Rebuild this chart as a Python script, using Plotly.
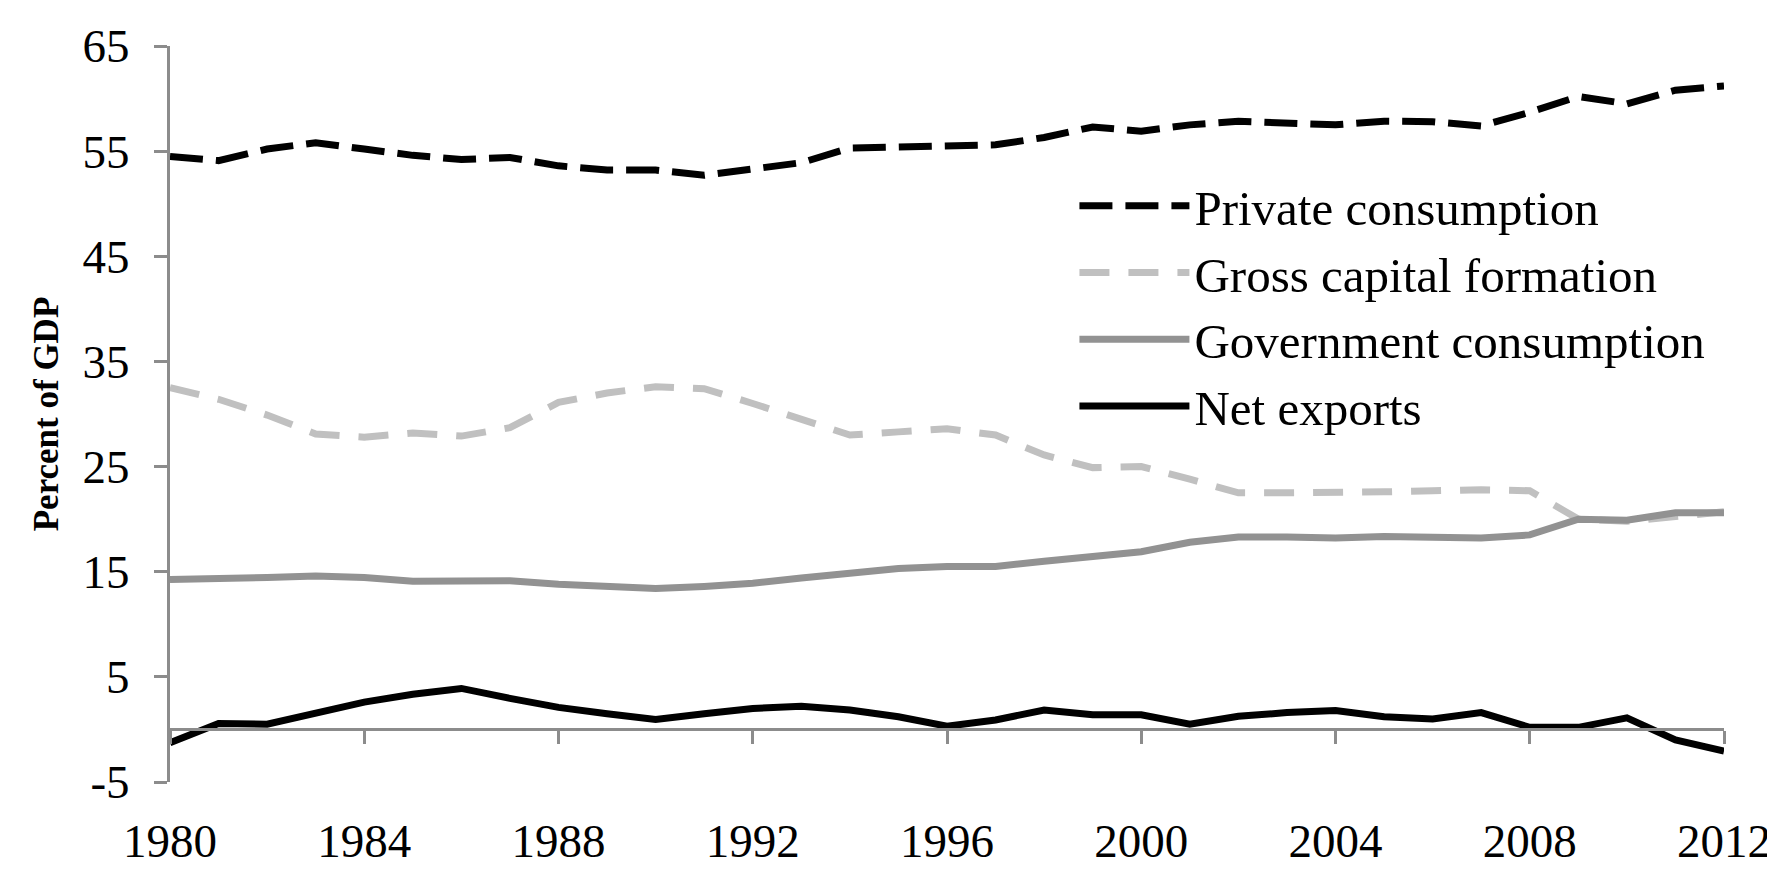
import plotly.graph_objects as go

years = list(range(1980, 2013))

private_consumption = [54.5, 54.1, 55.2, 55.8, 55.2, 54.6, 54.2, 54.4, 53.6, 53.2, 53.2, 52.7, 53.3, 53.9,
                       55.3, 55.4, 55.5, 55.6, 56.3, 57.3, 56.9, 57.5, 57.85, 57.7, 57.5, 57.85, 57.8, 57.4,
                       58.7, 60.2, 59.5, 60.8, 61.2]
gross_capital_formation = [32.5, 31.4, 29.9, 28.1, 27.8, 28.2, 27.9, 28.7, 31.1, 32.0, 32.6, 32.4, 31.0, 29.5,
                           28.0, 28.3, 28.6, 28.0, 26.1, 24.9, 25.0, 23.8, 22.5, 22.5, 22.5, 22.6, 22.7, 22.8,
                           22.7, 20.0, 19.8, 20.3, 20.7]
government_consumption = [14.25, 14.3, 14.45, 14.6, 14.45, 14.1, 14.1, 14.15, 13.8, 13.6, 13.4, 13.6, 13.9, 14.4,
                          14.8, 15.3, 15.5, 15.5, 16.0, 16.5, 16.9, 17.8, 18.3, 18.3, 18.2, 18.35, 18.2, 18.2,
                          18.5, 20.0, 19.9, 20.6, 20.6]
net_exports = [-1.27, 0.57, 0.5, 1.6, 2.6, 3.35, 3.9, 2.95, 2.1, 1.5, 0.95, 1.5, 2.0, 2.2, 1.85, 1.2, 0.3,
               0.9, 1.85, 1.4, 1.4, 0.5, 1.25, 1.6, 1.8, 1.2, 1.0, 1.6, 0.2, 0.2, 1.1, -1.0, -2.05]

series_names = ["Private consumption", "Gross capital formation", "Government consumption", "Net exports"]
x_ticks = [1980, 1984, 1988, 1992, 1996, 2000, 2004, 2008, 2012]
y_ticks = [-5, 5, 15, 25, 35, 45, 55, 65]
y_tick_labels = ["-5", "5", "15", "25", "35", "45", "55", "65"]

FONT = "Liberation Serif"
AXIS_GRAY = "#8c8c8c"

fig = go.Figure()
fig.add_trace(go.Scatter(x=years, y=private_consumption, name=series_names[0], mode="lines",
                         line=dict(color="#000000", width=7, dash="33px,13px")))
fig.add_trace(go.Scatter(x=years, y=gross_capital_formation, name=series_names[1], mode="lines",
                         line=dict(color="#c0c0c0", width=7, dash="30px,19px")))
fig.add_trace(go.Scatter(x=years, y=government_consumption, name=series_names[2], mode="lines",
                         line=dict(color="#929292", width=7)))
fig.add_trace(go.Scatter(x=years, y=net_exports, name=series_names[3], mode="lines",
                         line=dict(color="#000000", width=7)))
# invisible trace to host the zero-line axis with tick marks
fig.add_trace(go.Scatter(x=[years[0], years[-1]], y=[0, 0], xaxis="x2", mode="lines",
                         line=dict(width=0), showlegend=False, hoverinfo="skip"))

fig.update_layout(
    width=1775, height=871,
    margin=dict(l=162, r=51, t=25, b=86),
    paper_bgcolor="white", plot_bgcolor="white",
    font=dict(family=FONT, color="#000000", size=47),
    showlegend=True,
    legend=dict(x=0.582, y=0.835, xanchor="left", yanchor="top", bgcolor="rgba(0,0,0,0)",
                font=dict(family=FONT, size=49), itemwidth=110, tracegroupgap=0),
    xaxis=dict(range=[1980, 2012], tickvals=x_ticks, showline=False, showgrid=False, zeroline=False,
               ticks="", ticklabelstandoff=27, ticklabeloverflow="allow",
               tickfont=dict(size=47, family=FONT)),
    xaxis2=dict(range=[1980, 2012], tickvals=x_ticks, overlaying="x", anchor="free", position=5 / 70,
                showline=True, linecolor=AXIS_GRAY, linewidth=3, ticks="outside", ticklen=13,
                tickwidth=3, tickcolor=AXIS_GRAY, showticklabels=False, showgrid=False, zeroline=False),
    yaxis=dict(range=[-5, 65], tickvals=y_ticks, ticktext=y_tick_labels, showline=True,
               linecolor=AXIS_GRAY, linewidth=3, ticks="outside", ticklen=13, tickwidth=3,
               tickcolor=AXIS_GRAY, showgrid=False, zeroline=False, ticklabelstandoff=15,
               ticklabeloverflow="allow", tickfont=dict(size=47, family=FONT),
               title=dict(text="<b>Percent of GDP</b>", font=dict(size=35, family=FONT), standoff=14)),
)

fig.write_html("out.html")
